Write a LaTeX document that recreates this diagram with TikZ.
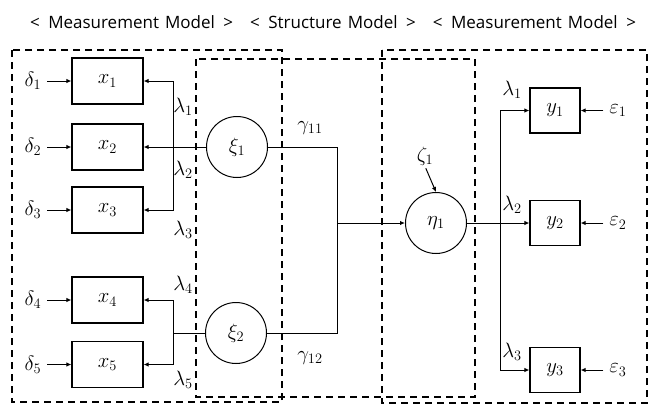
\documentclass[tikz,border=0pt]{standalone}
\usepackage{fontspec}
\newfontfamily\titlefont{Open Sans}
\usepackage{amsmath}
\usetikzlibrary{positioning, arrows.meta, shapes, calc}

\newcommand{\gapw}{\hspace{8.5pt}}
\newcommand{\gapm}{\hspace{6pt}}
\tikzset{
  modelbox/.style={line width=1.6pt, dash pattern=on 7pt off 5pt},
  mathfont/.style={font=\fontsize{20}{22}\selectfont},
  obsbox/.style={draw, mathfont, line width=1.2pt, minimum width=71pt, minimum height=46pt, inner sep=0pt},
  ybox/.style={draw, mathfont, line width=1.2pt, minimum width=50pt, minimum height=45pt, inner sep=0pt},
  latent/.style={draw, circle, mathfont, line width=1pt, minimum size=61pt, inner sep=0pt},
  lbl/.style={mathfont, inner sep=1pt},
  conn/.style={line width=1pt},
  arr/.style={line width=1pt, -{Latex[length=5pt,width=4.5pt]}},
  errarr/.style={arr, shorten <=5pt}
}

\begin{document}
\begin{tikzpicture}[x=1pt, y=-1pt]
    \useasboundingbox (0,0) rectangle (648,405);
    %--- TITLE ---
    \node[font=\titlefont\fontsize{17}{19}\selectfont, inner sep=0pt] (title) at (333,22)
      {<\gapw Measurement\gapm Model\gapw >\gapw\gapw
       <\gapw Structure\gapm Model\gapw >\gapw\gapw
       <\gapw Measurement\gapm Model\gapw >};
    %--- DASHED FRAMES ---
    \draw[modelbox] (12,50) rectangle (282,402);
    \draw[modelbox] (196,59) rectangle (475,397);
    \draw[modelbox] (382,50) rectangle (647,403);
    %--- EXOGENOUS MEASUREMENT ---
    \node[obsbox] (x1) at (107.5,81) {$x_1$};
    \node[obsbox] (x2) at (107.5,147) {$x_2$};
    \node[obsbox] (x3) at (107.5,210) {$x_3$};
    \node[obsbox] (x4) at (107.5,300) {$x_4$};
    \node[obsbox] (x5) at (107.5,364.5) {$x_5$};
    \node[lbl] (d1) at (33,81) {$\delta_1$};
    \node[lbl] (d2) at (33,147) {$\delta_2$};
    \node[lbl] (d3) at (33,210) {$\delta_3$};
    \node[lbl] (d4) at (33,300) {$\delta_4$};
    \node[lbl] (d5) at (33,364.5) {$\delta_5$};
    \foreach \i in {1,...,5} {
      \draw[errarr] (d\i) -- (x\i);
    }
    \node[latent] (xi1) at (237,147) {$\xi_1$};
    \node[latent] (xi2) at (236,333) {$\xi_2$};
    \coordinate (jl1) at (173,147);
    \coordinate (jl2) at (173,333);
    \draw[conn] (xi1) -- (jl1);
    \draw[arr] (jl1) |- (x1);
    \draw[arr] (jl1) -- (x2);
    \draw[arr] (jl1) |- (x3);
    \draw[conn] (xi2) -- (jl2);
    \draw[arr] (jl2) |- (x4);
    \draw[arr] (jl2) |- (x5);
    \node[lbl] (l1) at (183,107) {$\lambda_1$};
    \node[lbl] (l2) at (183,170) {$\lambda_2$};
    \node[lbl] (l3) at (183,230) {$\lambda_3$};
    \node[lbl] (l4) at (183,285) {$\lambda_4$};
    \node[lbl] (l5) at (183,380) {$\lambda_5$};
    %--- STRUCTURE ---
    \node[latent] (eta1) at (436,223) {$\eta_1$};
    \coordinate (js) at (337,223);
    \draw[conn] (xi1) -| (js);
    \draw[conn] (xi2) -| (js);
    \draw[arr] (js) -- (eta1);
    \node[lbl] (g11) at (310,128) {$\gamma_{11}$};
    \node[lbl] (g12) at (310,358) {$\gamma_{12}$};
    \node[lbl] (z1) at (425,156) {$\zeta_1$};
    \draw[arr, shorten <=2pt] (z1.south) -- (eta1.north);
    %--- ENDOGENOUS MEASUREMENT ---
    \node[ybox] (y1) at (555,110.5) {$y_1$};
    \node[ybox] (y2) at (555,223) {$y_2$};
    \node[ybox] (y3) at (555,370) {$y_3$};
    \node[lbl] (e1) at (618,110.5) {$\varepsilon_1$};
    \node[lbl] (e2) at (618,223) {$\varepsilon_2$};
    \node[lbl] (e3) at (618,370) {$\varepsilon_3$};
    \foreach \i in {1,2,3} {
      \draw[errarr] (e\i) -- (y\i);
    }
    \coordinate (jr) at (500,223);
    \draw[conn] (eta1) -- (jr);
    \draw[arr] (jr) |- (y1);
    \draw[arr] (jr) -- (y2);
    \draw[arr] (jr) |- (y3);
    \node[lbl] (r1) at (512,90) {$\lambda_1$};
    \node[lbl] (r2) at (512,205) {$\lambda_2$};
    \node[lbl] (r3) at (512,352) {$\lambda_3$};
  \end{tikzpicture}
\end{document}
